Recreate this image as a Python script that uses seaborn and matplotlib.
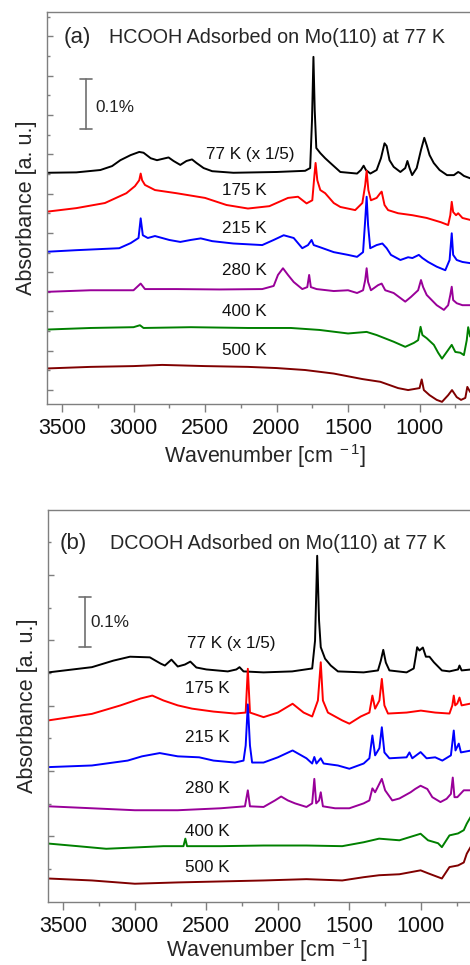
import numpy as np
import seaborn as sns
import matplotlib
matplotlib.use('Agg')
import matplotlib.pyplot as plt
from matplotlib.ticker import MultipleLocator, FixedLocator

# ---- panel (a): HCOOH, wavenumber / offset absorbance (tick units) ----
a77_wn = [3605, 3400, 3232, 3150, 3092, 3020, 2960, 2930, 2880, 2836, 2790, 2755, 2720, 2673, 2630, 2591, 2560,
          2510, 2450, 2302, 2000, 1800, 1765, 1752, 1742, 1733, 1722, 1694, 1660, 1624, 1554, 1437, 1410, 1391,
          1375, 1344, 1300, 1270, 1245, 1230, 1210, 1181, 1134, 1100, 1085, 1070, 1052, 1020, 990, 967, 950, 930,
          901, 860, 808, 760, 730, 715, 690, 646, 550]
a77_y = [5.53, 5.54, 5.60, 5.70, 5.85, 5.98, 6.06, 6.04, 5.90, 5.85, 5.89, 5.92, 5.83, 5.73, 5.83, 5.87, 5.78,
         5.65, 5.57, 5.53, 5.55, 5.58, 5.65, 6.87, 8.48, 7.12, 6.16, 6.03, 5.90, 5.78, 5.55, 5.51, 5.60, 5.71,
         5.60, 5.51, 5.60, 5.90, 6.28, 6.21, 5.85, 5.68, 5.55, 5.65, 5.83, 5.65, 5.47, 5.65, 6.11, 6.42, 6.23, 5.98,
         5.78, 5.60, 5.47, 5.47, 5.55, 5.52, 5.45, 5.39, 5.39]

a175_wn = [3605, 3400, 3200, 3050, 2990, 2960, 2950, 2940, 2920, 2850, 2700, 2500, 2350, 2200, 2050, 1920, 1850,
           1790, 1750, 1735, 1727, 1715, 1694, 1660, 1600, 1554, 1450, 1400, 1380, 1370, 1358, 1340, 1300, 1275,
           1265, 1245, 1220, 1150, 1050, 950, 850, 800, 785, 775, 765, 745, 730, 700, 646, 550]
a175_y = [4.54, 4.63, 4.76, 5.01, 5.19, 5.34, 5.51, 5.34, 5.22, 5.09, 5.01, 4.89, 4.71, 4.62, 4.68, 4.89, 4.92,
          4.75, 4.83, 5.47, 5.78, 5.34, 5.09, 5.01, 4.76, 4.66, 4.58, 4.76, 5.22, 5.58, 5.09, 4.83, 4.89, 5.01,
          5.05, 4.71, 4.58, 4.50, 4.45, 4.38, 4.27, 4.20, 4.45, 4.79, 4.53, 4.45, 4.50, 4.38, 4.33, 4.33]

a215_wn = [3605, 3400, 3100, 3020, 2965, 2950, 2935, 2900, 2850, 2750, 2673, 2600, 2530, 2450, 2302, 2100, 2020,
           1950, 1880, 1820, 1780, 1755, 1740, 1700, 1600, 1500, 1437, 1395, 1380, 1370, 1360, 1345, 1300, 1260,
           1230, 1200, 1134, 1080, 1050, 1005, 980, 940, 880, 820, 790, 775, 765, 740, 700, 646, 550]
a215_y = [3.52, 3.56, 3.61, 3.74, 3.87, 4.37, 3.94, 3.87, 3.92, 3.82, 3.77, 3.82, 3.86, 3.79, 3.73, 3.69, 3.82,
          3.94, 3.87, 3.61, 3.69, 3.82, 3.69, 3.64, 3.51, 3.44, 3.39, 3.51, 4.33, 4.92, 4.20, 3.61, 3.69, 3.73,
          3.61, 3.44, 3.31, 3.38, 3.36, 3.44, 3.36, 3.26, 3.14, 3.05, 3.31, 3.99, 3.44, 3.31, 3.26, 3.23, 3.23]

a280_wn = [3605, 3300, 3000, 2950, 2920, 2700, 2400, 2100, 2020, 1990, 1955, 1920, 1880, 1820, 1785, 1772, 1760,
           1720, 1600, 1500, 1437, 1395, 1380, 1370, 1360, 1340, 1290, 1265, 1240, 1181, 1100, 1060, 1010, 990,
           975, 950, 880, 830, 800, 785, 775, 765, 740, 700, 646, 550]
a280_y = [2.50, 2.54, 2.54, 2.71, 2.57, 2.57, 2.56, 2.57, 2.65, 2.93, 3.10, 2.93, 2.75, 2.57, 2.62, 2.93, 2.62,
          2.57, 2.52, 2.54, 2.47, 2.54, 2.80, 3.10, 2.75, 2.54, 2.67, 2.71, 2.54, 2.47, 2.25, 2.37, 2.54, 2.80,
          2.62, 2.42, 2.16, 2.04, 2.16, 2.42, 2.63, 2.29, 2.21, 2.16, 2.16, 2.16]

a400_wn = [3605, 3300, 3000, 2955, 2930, 2600, 2200, 1900, 1700, 1500, 1370, 1300, 1181, 1100, 1040, 1010, 993,
           980, 950, 900, 870, 843, 800, 775, 750, 715, 690, 670, 660, 646, 550]
a400_y = [1.54, 1.58, 1.60, 1.65, 1.58, 1.60, 1.58, 1.58, 1.53, 1.44, 1.48, 1.40, 1.23, 1.10, 1.20, 1.27, 1.61,
          1.40, 1.32, 1.15, 0.95, 0.80, 1.02, 1.15, 0.97, 0.95, 0.89, 1.27, 1.60, 1.36, 1.37]

a500_wn = [3605, 3300, 3000, 2800, 2500, 2200, 2000, 1800, 1600, 1400, 1274, 1150, 1080, 1000, 985, 970, 930, 880,
           843, 800, 773, 740, 710, 680, 666, 646, 550]
a500_y = [0.55, 0.59, 0.61, 0.64, 0.61, 0.59, 0.56, 0.51, 0.42, 0.28, 0.21, 0.05, 0.00, 0.05, 0.27, 0.00, -0.13,
          -0.25, -0.30, -0.13, 0.00, -0.18, -0.25, -0.20, 0.08, -0.05, -0.05]

# ---- panel (b): DCOOH ----
b77_wn = [3605, 3300, 3150, 3034, 2895, 2820, 2790, 2744, 2700, 2650, 2612, 2570, 2500, 2350, 2290, 2268, 2240,
          2100, 1900, 1760, 1740, 1725, 1712, 1700, 1670, 1630, 1580, 1400, 1300, 1280, 1263, 1245, 1220, 1100,
          1050, 1035, 1026, 1010, 986, 965, 940, 909, 853, 800, 740, 730, 715, 646, 550]
b77_y = [6.02, 6.18, 6.38, 6.50, 6.48, 6.29, 6.23, 6.41, 6.20, 6.26, 6.35, 6.17, 6.11, 6.05, 6.11, 6.18, 6.05,
         6.02, 6.05, 6.14, 6.99, 9.59, 7.61, 6.79, 6.44, 6.23, 6.05, 6.02, 6.08, 6.38, 6.71, 6.32, 6.08, 6.02,
         6.14, 6.53, 6.79, 6.69, 6.78, 6.50, 6.50, 6.33, 6.08, 6.05, 6.11, 6.23, 6.08, 6.11, 6.11]

b175_wn = [3605, 3300, 3100, 2960, 2878, 2800, 2700, 2600, 2450, 2300, 2225, 2210, 2195, 2100, 2000, 1897, 1820,
           1760, 1720, 1700, 1685, 1650, 1550, 1500, 1420, 1360, 1339, 1320, 1290, 1273, 1255, 1230, 1100, 1000,
           900, 800, 780, 770, 760, 745, 730, 715, 646, 550]
b175_y = [4.55, 4.75, 5.01, 5.22, 5.31, 5.16, 5.01, 4.91, 4.82, 4.76, 4.79, 6.13, 4.79, 4.65, 4.79, 5.06, 4.79,
          4.67, 5.16, 6.33, 5.16, 4.79, 4.55, 4.45, 4.67, 4.79, 5.31, 4.91, 5.16, 5.82, 5.01, 4.76, 4.79, 4.85,
          4.79, 4.76, 5.01, 5.31, 5.01, 5.07, 5.25, 5.01, 5.07, 5.07]

b215_wn = [3605, 3300, 3050, 2950, 2826, 2700, 2550, 2450, 2300, 2240, 2225, 2210, 2195, 2180, 2100, 2000, 1897,
           1800, 1760, 1745, 1730, 1700, 1680, 1580, 1500, 1400, 1360, 1339, 1320, 1290, 1273, 1255, 1220, 1100,
           1080, 1060, 1002, 960, 900, 850, 790, 770, 758, 735, 720, 646, 550]
b215_y = [3.12, 3.17, 3.32, 3.45, 3.55, 3.45, 3.42, 3.32, 3.26, 3.32, 3.78, 5.04, 3.78, 3.26, 3.26, 3.42, 3.63,
          3.39, 3.23, 3.43, 3.23, 3.39, 3.23, 3.17, 3.07, 3.23, 3.39, 4.09, 3.48, 3.70, 4.34, 3.57, 3.39, 3.42,
          3.57, 3.39, 3.58, 3.39, 3.42, 3.32, 3.48, 4.24, 3.63, 3.84, 3.57, 3.63, 3.63]

b280_wn = [3605, 3300, 3000, 2700, 2400, 2230, 2210, 2195, 2100, 2020, 1977, 1930, 1880, 1800, 1760, 1745, 1732,
           1712, 1700, 1685, 1600, 1500, 1400, 1360, 1339, 1320, 1273, 1250, 1200, 1150, 1072, 1040, 1002, 955,
           920, 863, 820, 790, 777, 765, 745, 700, 646, 550]
b280_y = [1.92, 1.86, 1.80, 1.80, 1.86, 1.92, 2.41, 1.92, 1.90, 2.10, 2.22, 2.10, 2.01, 1.90, 2.01, 2.76, 2.01,
          2.10, 2.35, 1.92, 1.86, 1.86, 2.01, 2.10, 2.47, 2.35, 2.76, 2.41, 2.10, 2.16, 2.35, 2.45, 2.55, 2.45,
          2.20, 2.05, 2.15, 2.30, 2.80, 2.20, 2.20, 2.41, 2.41, 2.41]

b400_wn = [3605, 3400, 3200, 3000, 2800, 2660, 2647, 2635, 2400, 2100, 1800, 1550, 1400, 1292, 1150, 1002, 950,
           880, 853, 800, 740, 700, 679, 646, 550]
b400_y = [0.78, 0.70, 0.62, 0.66, 0.70, 0.70, 0.93, 0.70, 0.70, 0.72, 0.72, 0.70, 0.82, 0.93, 0.88, 1.08, 0.88,
          0.79, 0.67, 1.03, 1.09, 1.19, 1.39, 1.64, 1.80]

b500_wn = [3605, 3300, 3000, 2700, 2400, 2100, 1800, 1550, 1400, 1292, 1150, 1002, 950, 853, 800, 740, 700, 679,
           646, 550]
b500_y = [-0.29, -0.35, -0.45, -0.41, -0.38, -0.35, -0.31, -0.35, -0.25, -0.19, -0.16, -0.04, -0.13, -0.29,
          0.06, 0.11, 0.20, 0.47, 0.72, 0.88]

colors = ['black', '#ff0000', '#0000ff', '#990099', '#008000', '#800000']
temps = ['77 K (x 1/5)', '175 K', '215 K', '280 K', '400 K', '500 K']

sns.set_style('ticks')
plt.rcParams['font.family'] = ['Liberation Sans', 'DejaVu Sans']
plt.rcParams['mathtext.fontset'] = 'custom'
plt.rcParams['mathtext.rm'] = 'Liberation Sans'
plt.rcParams['mathtext.it'] = 'Liberation Sans'

fig = plt.figure(figsize=(4.7, 9.65), dpi=100)
ax_a = fig.add_axes([0.1, 0.5813, 0.9296, 0.4062])
ax_b = fig.add_axes([0.1028, 0.0656, 0.9296, 0.4062])

panels = [
    (ax_a, [(a77_wn, a77_y), (a175_wn, a175_y), (a215_wn, a215_y), (a280_wn, a280_y), (a400_wn, a400_y),
            (a500_wn, a500_y)],
     (-0.356, 9.62), '(a)', 'HCOOH Adsorbed on Mo(110) at 77 K', (3491, 3169, 8.96),
     [(2183, 6.00), (2225, 5.09), (2225, 4.10), (2225, 3.05), (2225, 1.99), (2225, 1.00)],
     (3330, 6.64, 7.91, 3267, 7.20), 2.5),
    (ax_b, [(b77_wn, b77_y), (b175_wn, b175_y), (b215_wn, b215_y), (b280_wn, b280_y), (b400_wn, b400_y),
            (b500_wn, b500_y)],
     (-1.0, 11.0), '(b)', 'DCOOH Adsorbed on Mo(110) at 77 K', (3523, 3174, 9.96),
     [(2326, 6.89), (2495, 5.52), (2491, 4.04), (2491, 2.46), (2491, 1.16), (2491, 0.06)],
     (3349, 6.79, 8.32, 3314, 7.55), 0.0),
]

spine_col = '#7f7f7f'
for ax, curves, ylim, tag, title, tpos, lpos, bar, xpad in panels:
    for (wn, y), c in zip(curves, colors):
        sns.lineplot(x=wn, y=y, ax=ax, color=c, lw=1.4, sort=False, estimator=None)
    ax.set_xlim(3605, 550)
    ax.set_ylim(*ylim)
    ax.xaxis.set_major_locator(MultipleLocator(500))
    ax.xaxis.set_minor_locator(MultipleLocator(250))
    if tag == '(a)':
        ax.yaxis.set_major_locator(MultipleLocator(1))
        ax.yaxis.set_minor_locator(MultipleLocator(0.5))
    else:
        ax.yaxis.set_major_locator(FixedLocator([1, 3, 5, 7, 9]))
        ax.yaxis.set_minor_locator(FixedLocator([0, 2, 4, 6, 8, 10]))
    ax.tick_params(axis='x', which='major', direction='out', length=6, width=1, color=spine_col,
                   labelsize=15.5, pad=4, labelcolor='#111111')
    ax.tick_params(axis='x', which='minor', direction='out', length=3, width=1, color=spine_col)
    ax.tick_params(axis='y', which='major', direction='in', length=4.5, width=1, color=spine_col, labelleft=False)
    ax.tick_params(axis='y', which='minor', direction='in', length=2.5, width=1, color=spine_col)
    for s in ax.spines.values():
        s.set_color(spine_col)
        s.set_linewidth(1.0)
    ax.set_xlabel(r'Wavenumber [cm$^{\ -1}$]', fontsize=15.5, labelpad=xpad)
    ax.set_ylabel('Absorbance [a. u.]', fontsize=15.5, labelpad=4)
    ax.text(tpos[0], tpos[2], tag, fontsize=16, ha='left', va='center')
    ax.text(tpos[1], tpos[2], title, fontsize=14.2, ha='left', va='center')
    for (lx, ly), lab in zip(lpos, temps):
        ax.text(lx, ly, lab, fontsize=12.3, ha='center', va='center', color='#111111')
    bx, b0, b1, tx, ty = bar
    ax.plot([bx, bx], [b0, b1], color='#6f6f6f', lw=1.2)
    ax.plot([bx - 42, bx + 42], [b0, b0], color='#6f6f6f', lw=1.2)
    ax.plot([bx - 42, bx + 42], [b1, b1], color='#6f6f6f', lw=1.2)
    ax.text(tx, ty, '0.1%', fontsize=12.3, ha='left', va='center', color='#222222')

fig.savefig('out.png', dpi=100)
